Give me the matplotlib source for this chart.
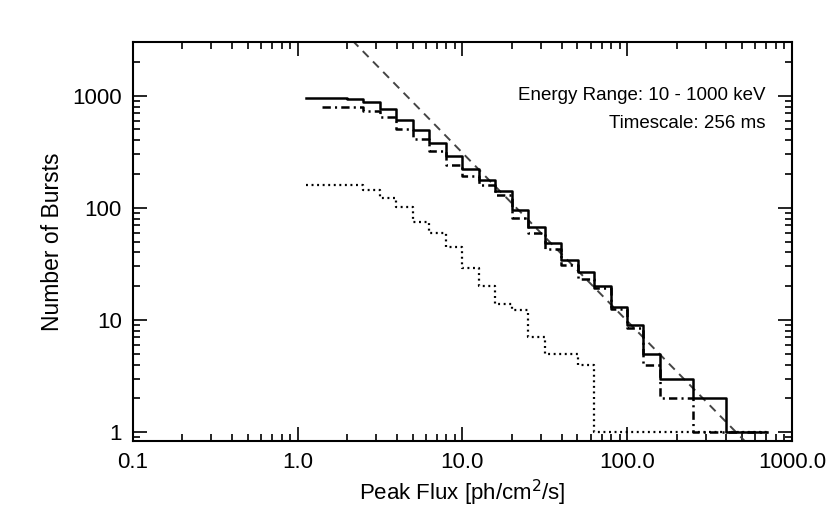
import numpy as np
import matplotlib
matplotlib.use("Agg")
import matplotlib.pyplot as plt
from matplotlib.ticker import LogLocator, FixedLocator, FixedFormatter, NullFormatter

plt.rcParams['font.family'] = ['Liberation Sans', 'DejaVu Sans']
plt.rcParams['lines.scale_dashes'] = False

# Bin centres of peak flux (ph/cm^2/s), 0.1-decade log bins
flux_centers = [1.12, 1.41, 1.78, 2.24, 2.82, 3.55, 4.47, 5.62, 7.08, 8.91,
                11.2, 14.1, 17.8, 22.4, 28.2, 35.5, 44.7, 56.2, 70.8, 89.1,
                112, 141, 178, 224, 282, 355, 447, 562, 708]

# Solid histogram (all bursts)
counts_solid = [955, 955, 955, 936, 874, 763, 609, 489, 380, 287,
                223, 178, 141, 95, 67, 49, 34.5, 27, 20, 13,
                9, 5, 3, 3, 2, 2, 1, 1, 1]
# Dash-dot histogram (starts at second bin)
counts_dashdot = [800, 797, 794, 726, 642, 506, 412, 320, 243,
                  194, 161, 129, 81, 60, 43, 31, 23, 19.4, 12.4,
                  8.4, 4, 2, 2, 1, 1, 1, 1, 1]
# Dotted histogram
counts_dotted = [159, 159, 159, 159, 145, 123, 101, 74, 59.5, 45,
                 29, 20, 14, 12.2, 7, 5, 5, 4, 1, 1,
                 1, 1, 1, 1, 1, 1, 1, 1, 1]

# Power-law reference: N = A * S^index
pl_norm = 9800.0
pl_index = -1.5

x_ticks = [0.1, 1.0, 10.0, 100.0, 1000.0]
x_ticklabels = ['0.1', '1.0', '10.0', '100.0', '1000.0']
y_ticks = [1, 10, 100, 1000]
y_ticklabels = ['1', '10', '100', '1000']


def hist_xy(centers, counts):
    c = np.asarray(centers, float)
    v = np.asarray(counts, float)
    lc = np.log10(c)
    edges = np.concatenate([[lc[0]], 0.5 * (lc[:-1] + lc[1:]), [lc[-1]]])
    x = 10 ** edges
    y = np.concatenate([v, [v[-1]]])
    return x, y


fig = plt.figure(figsize=(8.3, 5.27), dpi=100)
ax = fig.add_axes([0.160, 0.163, 0.794, 0.757])

xs, ys = hist_xy(flux_centers, counts_solid)
ax.plot(xs, ys, drawstyle='steps-post', color='black', lw=1.8, zorder=3)

xd, yd = hist_xy(flux_centers[1:], counts_dashdot)
ax.plot(xd, yd, drawstyle='steps-post', color='black', lw=1.8,
        dashes=(6, 3, 1.5, 3), zorder=3)

xo, yo = hist_xy(flux_centers, counts_dotted)
ax.plot(xo, yo, drawstyle='steps-post', color='black', lw=1.6,
        dashes=(1.4, 2.6), zorder=3)

s = np.logspace(-1, 3, 200)
ax.plot(s, pl_norm * s ** pl_index, color='#444444', lw=1.4,
        dashes=(6, 4.5), zorder=2)

ax.set_xscale('log')
ax.set_yscale('log')
ax.set_xlim(0.1, 1000)
ax.set_ylim(0.83, 3000)

ax.xaxis.set_major_locator(FixedLocator(x_ticks))
ax.xaxis.set_major_formatter(FixedFormatter(x_ticklabels))
ax.xaxis.set_minor_locator(LogLocator(base=10, subs=np.arange(2, 10)))
ax.xaxis.set_minor_formatter(NullFormatter())
ax.yaxis.set_major_locator(FixedLocator(y_ticks))
ax.yaxis.set_major_formatter(FixedFormatter(y_ticklabels))
ax.yaxis.set_minor_locator(LogLocator(base=10, subs=np.arange(2, 10)))
ax.yaxis.set_minor_formatter(NullFormatter())

ax.tick_params(which='both', direction='in', top=True, right=True,
               width=1.2, labelsize=16, pad=8)
ax.tick_params(which='major', length=10)
ax.tick_params(which='minor', length=5)
for sp in ax.spines.values():
    sp.set_linewidth(1.5)

ax.set_xlabel('Peak Flux [ph/cm$^2$/s]', fontsize=16, labelpad=3)
ax.set_ylabel('Number of Bursts', fontsize=16.5, labelpad=6)

ax.text(0.960, 0.867, 'Energy Range: 10 - 1000 keV', transform=ax.transAxes,
        ha='right', va='center', fontsize=13.5)
ax.text(0.960, 0.797, 'Timescale: 256 ms', transform=ax.transAxes,
        ha='right', va='center', fontsize=13.5)

fig.savefig('out.png', dpi=100)
